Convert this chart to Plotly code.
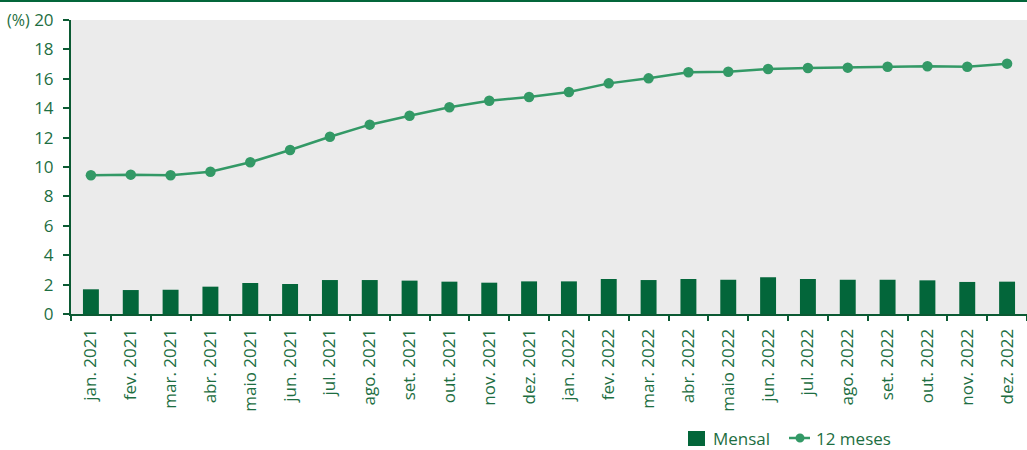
import plotly.graph_objects as go

# Monthly and 12-month accumulated rates (%), Jan 2021 - Dec 2022
months = [
    "jan. 2021", "fev. 2021", "mar. 2021", "abr. 2021", "maio 2021", "jun. 2021",
    "jul. 2021", "ago. 2021", "set. 2021", "out. 2021", "nov. 2021", "dez. 2021",
    "jan. 2022", "fev. 2022", "mar. 2022", "abr. 2022", "maio 2022", "jun. 2022",
    "jul. 2022", "ago. 2022", "set. 2022", "out. 2022", "nov. 2022", "dez. 2022",
]
mensal = [
    1.68, 1.63, 1.65, 1.86, 2.11, 2.04, 2.31, 2.31, 2.27, 2.20, 2.13, 2.22,
    2.22, 2.38, 2.31, 2.38, 2.33, 2.50, 2.38, 2.33, 2.33, 2.29, 2.18, 2.20,
]
doze_meses = [
    9.44, 9.48, 9.44, 9.68, 10.32, 11.16, 12.06, 12.88, 13.49, 14.06, 14.51, 14.76,
    15.10, 15.69, 16.03, 16.44, 16.48, 16.67, 16.73, 16.76, 16.82, 16.85, 16.82, 17.03,
]
y_ticks = [0, 2, 4, 6, 8, 10, 12, 14, 16, 18, 20]

DARK = "#03663A"
LINE = "#339966"
AXIS = "#0B5A33"
TEXT = "#1D6E42"
FONT = "Open Sans"

W, H = 1027, 450
L, R, T, B = 71, 0, 20, 136
pw, ph = W - L - R, H - T - B


def px_x(x):
    """figure pixel x -> paper coordinate"""
    return (x - L) / pw


def px_y(y):
    """figure pixel y -> paper coordinate"""
    return (H - B - y) / ph


fig = go.Figure()
fig.add_trace(go.Bar(
    x=months, y=mensal, name="Mensal",
    marker=dict(color=DARK, line=dict(width=0)), width=0.4,
))
fig.add_trace(go.Scatter(
    x=months, y=doze_meses, name="12 meses", mode="lines+markers",
    line=dict(color=LINE, width=2.5), marker=dict(color=LINE, size=10.5),
))

fig.update_layout(
    width=W, height=H,
    margin=dict(l=L, r=R, t=T, b=B, pad=0, autoexpand=False),
    paper_bgcolor="white", plot_bgcolor="#EBEBEB",
    font=dict(family=FONT, size=17, color=TEXT),
    showlegend=False,
)
fig.update_xaxes(
    type="category", range=[-0.5, len(months) - 0.5], automargin=False,
    tickangle=-90, showgrid=False,
    showline=True, linecolor=AXIS, linewidth=2,
    ticks="outside", tickson="boundaries", ticklen=5, tickcolor=AXIS, tickwidth=2,
    tickfont=dict(family=FONT, size=17, color=TEXT),
    ticklabelstandoff=6,
)
fig.update_yaxes(
    range=[0, 20], tickvals=y_ticks, automargin=False,
    showgrid=False, zeroline=False,
    showline=True, linecolor=AXIS, linewidth=2,
    ticks="outside", ticklen=6, tickcolor=AXIS, tickwidth=2,
    tickfont=dict(family=FONT, size=17, color=TEXT),
    ticklabelstandoff=6,
)

# unit label beside the top tick
fig.add_annotation(
    text="(%)", xref="paper", yref="paper", x=px_x(32), y=1,
    xanchor="right", yanchor="middle", showarrow=False,
    font=dict(family=FONT, size=16, color=TEXT),
)
# dark rule across the top of the figure
fig.add_shape(
    type="line", xref="paper", yref="paper",
    x0=px_x(0), x1=1, y0=px_y(1), y1=px_y(1),
    line=dict(color=DARK, width=2),
)

# legend: swatch + label for each series
LEG_Y = 438
fig.add_shape(
    type="rect", xref="paper", yref="paper",
    x0=px_x(688), x1=px_x(705), y0=px_y(LEG_Y + 8), y1=px_y(LEG_Y - 7),
    fillcolor=DARK, line=dict(width=0),
)
fig.add_annotation(
    text="Mensal", xref="paper", yref="paper", x=px_x(711), y=px_y(LEG_Y),
    xanchor="left", yanchor="middle", showarrow=False,
    font=dict(family=FONT, size=17, color=TEXT),
)
fig.add_shape(
    type="line", xref="paper", yref="paper",
    x0=px_x(789), x1=px_x(810), y0=px_y(LEG_Y), y1=px_y(LEG_Y),
    line=dict(color=LINE, width=2.5),
)
fig.add_shape(
    type="circle", xref="paper", yref="paper",
    x0=px_x(795.5), x1=px_x(804.5), y0=px_y(LEG_Y + 4.5), y1=px_y(LEG_Y - 4.5),
    fillcolor=LINE, line=dict(width=0),
)
fig.add_annotation(
    text="12 meses", xref="paper", yref="paper", x=px_x(814), y=px_y(LEG_Y),
    xanchor="left", yanchor="middle", showarrow=False,
    font=dict(family=FONT, size=17, color=TEXT),
)

fig.write_html("out.html")
